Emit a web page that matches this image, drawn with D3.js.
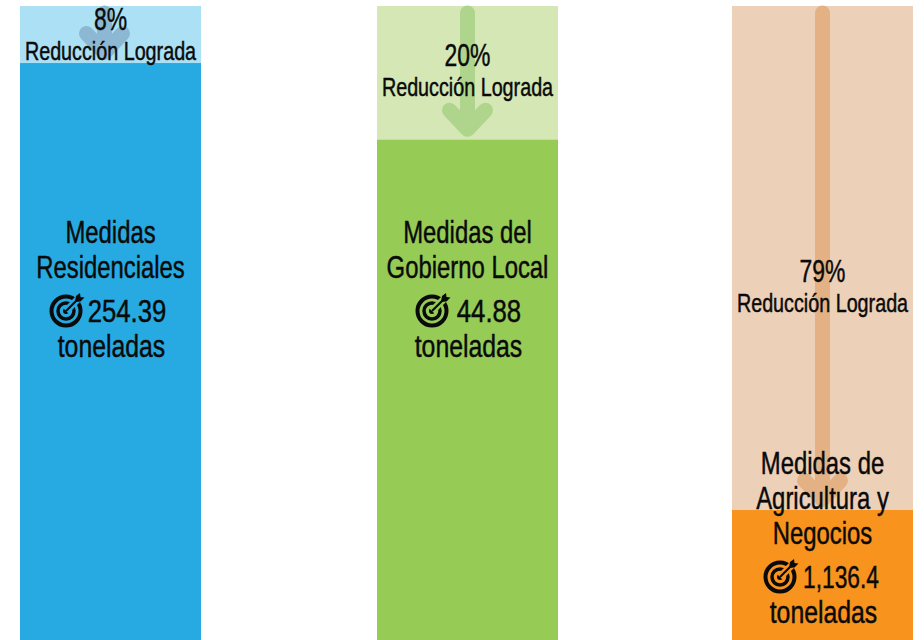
<!DOCTYPE html>
<html>
<head>
<meta charset="utf-8">
<script src="https://cdn.jsdelivr.net/npm/d3@7"></script>
<style>
  body { margin: 0; background: #fff; }
  svg { display: block; }
  text { font-family: "Liberation Sans", sans-serif; fill: #0a0a0a; stroke: #0a0a0a; stroke-width: 0.45; text-anchor: middle; }
</style>
</head>
<body>
<script>
// values
const categories = ["Residenciales", "Gobierno Local", "Agricultura y Negocios"];
const reductionLabels = [8, 20, 79];
// how far down the bar the pale band really reaches, in % of bar height
const bandDepth = [9, 21.1, 79.5];
const tonnes = ["254.39", "44.88", "1,136.4"];
const titles = [
    ["Medidas", "Residenciales"],
    ["Medidas del", "Gobierno Local"],
    ["Medidas de", "Agricultura y", "Negocios"]
];
const mainColors = ["#27aae2", "#96cb56", "#f8931d"];
const paleColors = ["#abe0f5", "#d4e7b4", "#ecd0b8"];
const arrowColors = ["#8cb8d4", "#aed58b", "#e3b184"];

const width = 924, height = 640;
const barWidth = 181;
const barTop = 6;

const x = d3.scaleOrdinal().domain(categories).range([110.5, 467.5, 822.5]);
const y = d3.scaleLinear().domain([0, 100]).range([barTop, height]);

const svg = d3.select("body").append("svg")
    .attr("width", width)
    .attr("height", height);

const g = svg.selectAll("g.bar")
    .data(categories)
    .enter()
    .append("g")
    .attr("class", "bar")
    .attr("transform", function (d) { return "translate(" + x(d) + ",0)"; });

g.append("rect")
    .attr("x", -barWidth / 2)
    .attr("y", y(0))
    .attr("width", barWidth)
    .attr("height", y(100) - y(0))
    .attr("fill", function (d, i) { return paleColors[i]; });

g.append("rect")
    .attr("x", -barWidth / 2)
    .attr("y", function (d, i) { return y(bandDepth[i]); })
    .attr("width", barWidth)
    .attr("height", function (d, i) { return y(100) - y(bandDepth[i]); })
    .attr("fill", function (d, i) { return mainColors[i]; });

// down arrow, tip stops just above the solid part
const arrowShift = [-6, 0, 0];
g.append("path")
    .attr("d", function (d, i) {
        const cx = arrowShift[i];
        const top = y(0) + 7, tip = y(bandDepth[i]) - 10.5;
        return "M" + cx + "," + top + "V" + tip + "M" + (cx - 18) + "," + (tip - 19) + "L" + cx + "," + tip + "L" + (cx + 18) + "," + (tip - 19);
    })
    .attr("fill", "none")
    .attr("stroke", function (d, i) { return arrowColors[i]; })
    .attr("stroke-width", 15)
    .attr("stroke-linecap", "round")
    .attr("stroke-linejoin", "round");

// no condensed face is installed, so squeeze the text sideways
function label(parent, tx, ty, size, squeeze, str) {
    parent.append("text")
        .attr("transform", "translate(" + tx + "," + ty + ") scale(" + squeeze + ",1)")
        .style("font-size", size + "px")
        .text(str);
}

// percent + caption. Each sits at its own height in the pale band
const pctBase = [30, 66, 282];
const iconX = [-44.5, -35.5, -42.5];
const tonnesX = [16.5, 21.5, 18.5];
const tonnesSqueeze = [0.83, 0.83, 0.735];
const titleBase = [243, 243, 474];

g.each(function (d, i) {
    const node = d3.select(this);
    label(node, 0, pctBase[i], 31, 0.74, reductionLabels[i] + "%");
    label(node, 0, pctBase[i] + 29.5, 25, 0.79, "Reducción Lograda");

    titles[i].forEach(function (line, j) {
        label(node, 0, titleBase[i] + j * 35, 31, 0.77, line);
    });
    const base = titleBase[i] + (titles[i].length - 1) * 35 + 44;

    // target icon + tonnes
    const icon = node.append("g")
        .attr("transform", "translate(" + iconX[i] + "," + (base - 11) + ")");
    icon.append("circle").attr("r", 14.5).attr("fill", "none").attr("stroke", "#0a0a0a").attr("stroke-width", 4);
    icon.append("circle").attr("r", 8).attr("fill", "none").attr("stroke", "#0a0a0a").attr("stroke-width", 3.5);
    icon.append("circle").attr("r", 3).attr("fill", "#0a0a0a");
    icon.append("path")
        .attr("d", "M0,0L12,-12")
        .attr("stroke", mainColors[i])
        .attr("stroke-width", 7);
    icon.append("path")
        .attr("d", "M0,0L12,-12")
        .attr("stroke", "#0a0a0a")
        .attr("stroke-width", 2.2);
    icon.append("path")
        .attr("d", "M9,-9L10,-15L14,-18L14.5,-14L18.5,-13.5L14.5,-9.5Z")
        .attr("fill", "#0a0a0a");

    label(node, tonnesX[i], base, 31, tonnesSqueeze[i], tonnes[i]);
    label(node, 1, base + 34.5, 31, 0.8, "toneladas");
});
</script>
</body>
</html>
